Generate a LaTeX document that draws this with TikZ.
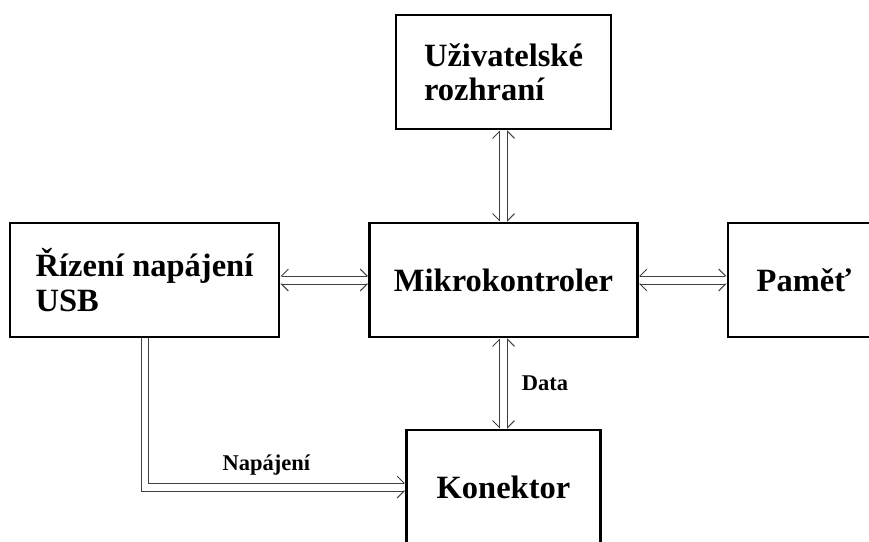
\documentclass[tikz,border=0pt]{standalone}
\usepackage{fontspec}
\setmainfont{Liberation Serif}
\usetikzlibrary{arrows.meta, positioning}

\tikzset{
    blok/.style={draw, line width=2.6pt, minimum height=114pt, inner sep=0pt,
        align=left, font=\fontsize{32.5}{34.5}\selectfont\bfseries},
    popis/.style={inner sep=1pt, font=\fontsize{22.5}{24}\selectfont\bfseries},
    vodic/.style={line width=0.9pt, draw=black!75},
    barb/.tip={Straight Barb[length=7pt, width=14pt]},
    vodicA/.style={vodic, {barb[right]}-{barb[left]}},
    vodicB/.style={vodic, {barb[left]}-{barb[right]}}
}

\begin{document}
\begin{tikzpicture}[x=1pt, y=-1pt]
    \useasboundingbox (0,0) rectangle (869,541);
    \clip (0,0) rectangle (869,541);

    % bloky
    \node[blok, minimum width=215pt] (ui) at (503.5, 72) {Uživatelské\\rozhraní};
    \node[blok, minimum width=269pt] (usb) at (144.5, 280) {Řízení napájení\\USB};
    \node[blok, minimum width=268pt] (mcu) at (503.5, 280) {Mikrokontroler};
    \node[blok, minimum width=152pt] (mem) at (804, 280) {Paměť};
    \node[blok, minimum width=194pt] (kon) at (503.5, 487) {Konektor};

    % uzivatelske rozhrani - mikrokontroler
    \draw[vodicB] ([xshift=-4pt]ui.south) -- ([xshift=-4pt]mcu.north);
    \draw[vodicA] ([xshift=4pt]ui.south) -- ([xshift=4pt]mcu.north);

    % napajeni - mikrokontroler
    \draw[vodicA] ([yshift=4pt]usb.east) -- ([yshift=4pt]mcu.west);
    \draw[vodicB] ([yshift=-4pt]usb.east) -- ([yshift=-4pt]mcu.west);

    % mikrokontroler - pamet
    \draw[vodicA] ([yshift=4pt]mcu.east) -- ([yshift=4pt]mem.west);
    \draw[vodicB] ([yshift=-4pt]mcu.east) -- ([yshift=-4pt]mem.west);

    % mikrokontroler - konektor
    \draw[vodicB] ([xshift=-4pt]mcu.south) -- ([xshift=-4pt]kon.north);
    \draw[vodicA] ([xshift=4pt]mcu.south) -- ([xshift=4pt]kon.north)
        node[popis, midway, right=13pt] {Data};

    % napajeni - konektor
    \draw[vodic, -{barb[right]}] ([xshift=-3.5pt]usb.south) |- ([yshift=-4pt]kon.west);
    \draw[vodic, -{barb[left]}] ([xshift=3.5pt]usb.south) |- ([yshift=4pt]kon.west)
        node[popis, pos=0.73, above=6pt] {Napájení};
\end{tikzpicture}
\end{document}
